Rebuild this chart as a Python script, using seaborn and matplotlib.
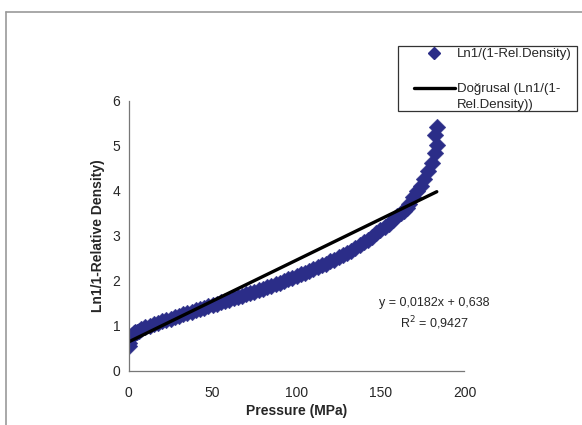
import matplotlib
matplotlib.use("Agg")
import matplotlib.pyplot as plt
import seaborn as sns
import pandas as pd
from matplotlib.lines import Line2D
from matplotlib.patches import Rectangle
from matplotlib.legend_handler import HandlerLine2D

# ---- data ----
pressure = [0, 0, 0, 0.5, 1, 1.5, 2, 3, 4, 5, 6, 7.5, 10, 12.5, 15, 17.5, 20, 22.5, 25, 27.5,
            30, 32.5, 35, 37.5, 40, 42.5, 45, 47.5, 50, 52.5, 55, 57.5, 60, 62.5, 65, 67.5,
            70, 72.5, 75, 77.5, 80, 82.5, 85, 87.5, 90, 92.5, 95, 97.5, 100, 102.5, 105,
            107.5, 110, 112.5, 115, 117.5, 120, 122.5, 125, 127.5, 130, 132.5, 135, 137.5,
            140, 142.5, 145, 147.5, 150, 152.5, 155, 157.5, 160, 162, 164, 165.5, 167, 169.5,
            172, 174, 176, 178.5, 180.5, 182.2, 183.5, 182.5, 183.5]
ln_density = [0.55, 0.62, 0.70, 0.73, 0.76, 0.78, 0.80, 0.83, 0.85, 0.87, 0.89, 0.92, 0.97,
              1.00, 1.04, 1.07, 1.10, 1.13, 1.16, 1.19, 1.22, 1.25, 1.28, 1.31, 1.34, 1.37,
              1.40, 1.43, 1.46, 1.49, 1.52, 1.55, 1.58, 1.61, 1.64, 1.67, 1.70, 1.73, 1.76,
              1.79, 1.82, 1.85, 1.89, 1.92, 1.96, 1.99, 2.03, 2.06, 2.10, 2.14, 2.18, 2.22,
              2.26, 2.30, 2.34, 2.38, 2.43, 2.47, 2.52, 2.57, 2.62, 2.67, 2.73, 2.79, 2.85,
              2.91, 2.98, 3.05, 3.12, 3.19, 3.27, 3.35, 3.43, 3.50, 3.56, 3.62, 3.70, 3.85,
              3.99, 4.10, 4.25, 4.43, 4.61, 4.84, 5.01, 5.24, 5.42]

trend_x = [0, 183.5]
slope = 0.0182
intercept = 0.638

x_ticks = [0, 50, 100, 150, 200]
y_ticks = [0, 1, 2, 3, 4, 5, 6]

series_label = "Ln1/(1-Rel.Density)"
trend_label = "Doğrusal (Ln1/(1-\nRel.Density))"
eq_text = "y = 0,0182x + 0,638"
r2_text = "R$^2$ = 0,9427"

# ---- plot ----
sns.set_theme(style="white")
plt.rcParams["font.family"] = ["Liberation Sans", "DejaVu Sans"]

df = pd.DataFrame({"Pressure": pressure, "Ln": ln_density})
trend = pd.DataFrame({"x": trend_x, "y": [intercept + slope * v for v in trend_x]})

W, H = 582, 425
fig = plt.figure(figsize=(5.82, 4.25), dpi=100)
ax = fig.add_axes([128.5 / W, 1 - 370.7 / H, 336 / W, 270 / H])

navy = "#2b2d88"
sns.scatterplot(data=df, x="Pressure", y="Ln", marker="D", s=72, color=navy,
                edgecolor=navy, linewidth=0.3, ax=ax, legend=False)
sns.lineplot(data=trend, x="x", y="y", color="black", linewidth=2.4, ax=ax,
             legend=False)

ax.set_xlim(0, 200)
ax.set_ylim(0, 6)
ax.set_xticks(x_ticks)
ax.set_yticks(y_ticks)
ax.set_xticklabels([str(t) for t in x_ticks], fontsize=10)
ax.set_yticklabels([str(t) for t in y_ticks], fontsize=10)
ax.tick_params(axis="x", direction="out", length=4, width=0.8, color="#777777", pad=7)
ax.tick_params(axis="y", direction="out", length=4, width=0.8, color="#777777", pad=2)
for s in ["top", "right"]:
    ax.spines[s].set_visible(False)
for s in ["left", "bottom"]:
    ax.spines[s].set_color("#777777")
    ax.spines[s].set_linewidth(0.9)

ax.set_xlabel("Pressure (MPa)", fontsize=10, fontweight="bold", labelpad=3)
ax.set_ylabel("Ln1/1-Relative Density)", fontsize=10, fontweight="bold", labelpad=5)

fig.text(434.5 / W, 1 - 303 / H, eq_text, ha="center", va="center", fontsize=9)
fig.text(434.5 / W, 1 - 323 / H, r2_text, ha="center", va="center", fontsize=9)


class RaisedLineHandler(HandlerLine2D):
    """Line handle aligned with the first line of a two-line label."""
    def create_artists(self, legend, orig_handle, xdescent, ydescent,
                       width, height, fontsize, trans):
        return super().create_artists(legend, orig_handle, xdescent,
                                      ydescent - 13.0, width, height,
                                      fontsize, trans)


scatter_handle = Line2D([], [], linestyle="none", marker="D", markersize=6.5, color=navy)
line_handle = Line2D([], [], color="black", linewidth=2.4)
leg = fig.legend([scatter_handle, line_handle], [series_label, trend_label],
                 loc="upper left", bbox_to_anchor=(414 / W, 1 - 48 / H), fontsize=9.5,
                 frameon=False, handlelength=3.1, handletextpad=0.15,
                 labelspacing=1.75, borderpad=0, borderaxespad=0,
                 handler_map={line_handle: RaisedLineHandler()})
for t in leg.get_texts():
    t.set_linespacing(1.45)
fig.add_artist(Rectangle((398 / W, 1 - 111 / H), 179 / W, 65 / H,
                         transform=fig.transFigure, fill=False,
                         edgecolor="#333333", linewidth=0.9))

# chart-area border (cropped Excel frame)
fig.add_artist(Line2D([6 / W, 1.0], [1 - 12 / H, 1 - 12 / H],
                      transform=fig.transFigure, color="#999999", linewidth=1.2))
fig.add_artist(Line2D([6 / W, 6 / W], [0, 1 - 12 / H],
                      transform=fig.transFigure, color="#999999", linewidth=1.2))

fig.savefig("out.png", dpi=100)
